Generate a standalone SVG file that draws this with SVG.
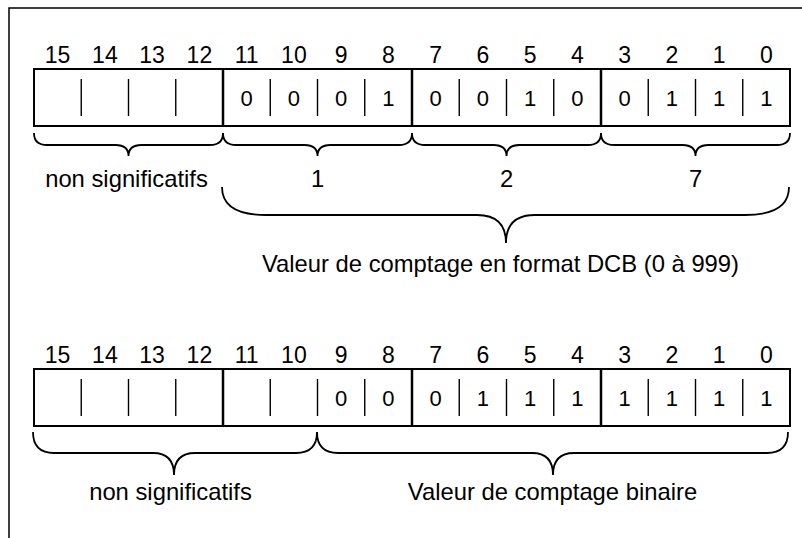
<svg xmlns="http://www.w3.org/2000/svg" width="802" height="538" viewBox="0 0 802 538">
<style>
text{font-family:"Liberation Sans",Arial,sans-serif;fill:#000;text-anchor:middle}
.n{font-size:23px}
.v{font-size:22px}
.lbl{font-size:23.8px}
.reg{fill:#fff;stroke:#000;stroke-width:2}
.div{stroke:#000;stroke-width:2.5}
.tick{stroke:#000;stroke-width:1.4}
.br{fill:none;stroke:#000;stroke-width:1.8}
.frame{fill:none;stroke:#000;stroke-width:1.5}
</style>
<rect width="802" height="538" fill="#fff"/>
<path class="frame" d="M9 538 V8 H802"/>

<g id="register-dcb">
<rect class="reg" x="34" y="69" width="756" height="57"/>
<line class="div" x1="223" y1="69" x2="223" y2="126"/>
<line class="div" x1="412" y1="69" x2="412" y2="126"/>
<line class="div" x1="601" y1="69" x2="601" y2="126"/>
<g class="tick">
<line x1="81.25" y1="79" x2="81.25" y2="116"/><line x1="128.5" y1="79" x2="128.5" y2="116"/><line x1="175.75" y1="79" x2="175.75" y2="116"/>
<line x1="270.25" y1="79" x2="270.25" y2="116"/><line x1="317.5" y1="79" x2="317.5" y2="116"/><line x1="364.75" y1="79" x2="364.75" y2="116"/>
<line x1="459.25" y1="79" x2="459.25" y2="116"/><line x1="506.5" y1="79" x2="506.5" y2="116"/><line x1="553.75" y1="79" x2="553.75" y2="116"/>
<line x1="648.25" y1="79" x2="648.25" y2="116"/><line x1="695.5" y1="79" x2="695.5" y2="116"/><line x1="742.75" y1="79" x2="742.75" y2="116"/>
</g>
<g class="n">
<text x="57.6" y="63">15</text><text x="104.9" y="63">14</text><text x="152.1" y="63">13</text><text x="199.4" y="63">12</text>
<text x="246.6" y="63">11</text><text x="293.9" y="63">10</text><text x="341.1" y="63">9</text><text x="388.4" y="63">8</text>
<text x="435.6" y="63">7</text><text x="482.9" y="63">6</text><text x="530.1" y="63">5</text><text x="577.4" y="63">4</text>
<text x="624.6" y="63">3</text><text x="671.9" y="63">2</text><text x="719.1" y="63">1</text><text x="766.4" y="63">0</text>
</g>
<g class="v">
<text x="246.6" y="106">0</text><text x="293.9" y="106">0</text><text x="341.1" y="106">0</text><text x="388.4" y="106">1</text>
<text x="435.6" y="106">0</text><text x="482.9" y="106">0</text><text x="530.1" y="106">1</text><text x="577.4" y="106">0</text>
<text x="624.6" y="106">0</text><text x="671.9" y="106">1</text><text x="719.1" y="106">1</text><text x="766.4" y="106">1</text>
</g>
</g>

<g id="register-bin">
<rect class="reg" x="34" y="369" width="756" height="57"/>
<line class="div" x1="223" y1="369" x2="223" y2="426"/>
<line class="div" x1="412" y1="369" x2="412" y2="426"/>
<line class="div" x1="601" y1="369" x2="601" y2="426"/>
<g class="tick">
<line x1="81.25" y1="379" x2="81.25" y2="416"/><line x1="128.5" y1="379" x2="128.5" y2="416"/><line x1="175.75" y1="379" x2="175.75" y2="416"/>
<line x1="270.25" y1="379" x2="270.25" y2="416"/><line x1="317.5" y1="379" x2="317.5" y2="416"/><line x1="364.75" y1="379" x2="364.75" y2="416"/>
<line x1="459.25" y1="379" x2="459.25" y2="416"/><line x1="506.5" y1="379" x2="506.5" y2="416"/><line x1="553.75" y1="379" x2="553.75" y2="416"/>
<line x1="648.25" y1="379" x2="648.25" y2="416"/><line x1="695.5" y1="379" x2="695.5" y2="416"/><line x1="742.75" y1="379" x2="742.75" y2="416"/>
</g>
<g class="n">
<text x="57.6" y="363">15</text><text x="104.9" y="363">14</text><text x="152.1" y="363">13</text><text x="199.4" y="363">12</text>
<text x="246.6" y="363">11</text><text x="293.9" y="363">10</text><text x="341.1" y="363">9</text><text x="388.4" y="363">8</text>
<text x="435.6" y="363">7</text><text x="482.9" y="363">6</text><text x="530.1" y="363">5</text><text x="577.4" y="363">4</text>
<text x="624.6" y="363">3</text><text x="671.9" y="363">2</text><text x="719.1" y="363">1</text><text x="766.4" y="363">0</text>
</g>
<g class="v">
<text x="341.1" y="406">0</text><text x="388.4" y="406">0</text>
<text x="435.6" y="406">0</text><text x="482.9" y="406">1</text><text x="530.1" y="406">1</text><text x="577.4" y="406">1</text>
<text x="624.6" y="406">1</text><text x="671.9" y="406">1</text><text x="719.1" y="406">1</text><text x="766.4" y="406">1</text>
</g>
</g>

<g id="braces">
<path class="br" d="M34 133 Q34 145 47 145 L115.5 145 Q128.5 145 128.5 156 Q128.5 145 141.5 145 L210 145 Q223 145 223 133"/>
<path class="br" d="M223 133 Q223 145 236 145 L304.5 145 Q317.5 145 317.5 156 Q317.5 145 330.5 145 L399 145 Q412 145 412 133"/>
<path class="br" d="M412 133 Q412 145 425 145 L493.5 145 Q506.5 145 506.5 156 Q506.5 145 519.5 145 L588 145 Q601 145 601 133"/>
<path class="br" d="M601 133 Q601 145 614 145 L682.5 145 Q695.5 145 695.5 156 Q695.5 145 708.5 145 L777 145 Q790 145 790 133"/>
<path class="br" d="M222 187 Q222 215 266 215 L477 215 Q506 215 506 243 Q506 215 535 215 L745 215 Q789 215 789 187"/>
<path class="br" d="M33 432 Q33 453 54 453 L153 453 Q174 453 174 475 Q174 453 195 453 L296 453 Q317 453 317 432"/>
<path class="br" d="M317 432 Q317 453 338 453 L532 453 Q553 453 553 475 Q553 453 574 453 L767 453 Q788 453 788 432"/>
</g>

<g id="labels" class="lbl">
<text x="126.5" y="187">non significatifs</text>
<text x="317.5" y="187">1</text>
<text x="506.5" y="187">2</text>
<text x="695.5" y="187">7</text>
<text x="500.5" y="272">Valeur de comptage en format DCB (0 à 999)</text>
<text x="170.5" y="500">non significatifs</text>
<text x="552.5" y="500">Valeur de comptage binaire</text>
</g>
</svg>
